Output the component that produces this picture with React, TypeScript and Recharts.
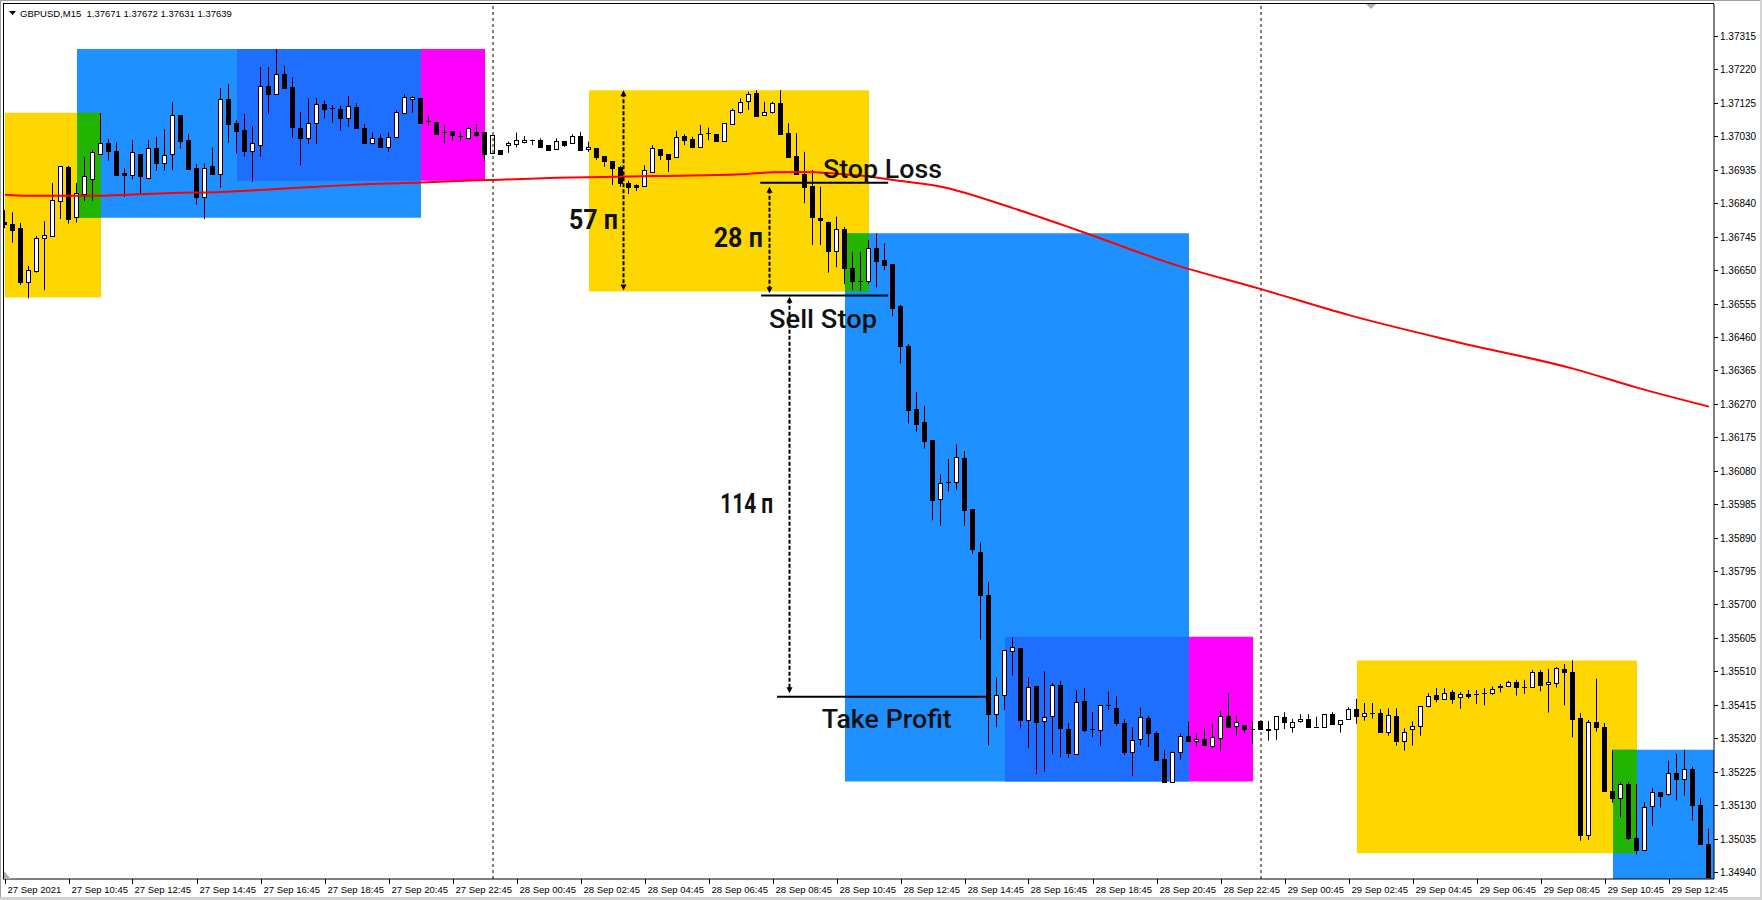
import React from "react";
import {
  ComposedChart,
  Bar,
  Line,
  XAxis,
  YAxis,
  ReferenceArea,
  ReferenceLine,
  ReferenceDot,
} from "recharts";

// GBPUSD M15, 27 Sep 2021 08:45 .. 29 Sep 14:00, one entry per bar
const opens = [
  1.36787, 1.36781, 1.36769, 1.36617, 1.36648, 1.3674, 1.36748, 1.36847, 1.36943, 1.368,
  1.36867, 1.3691, 1.36979, 1.3701, 1.36988, 1.36926, 1.36921, 1.3698, 1.36911, 1.36996,
  1.36953, 1.36979, 1.3709, 1.37019, 1.36939, 1.36858, 1.36946, 1.36924, 1.37135, 1.37067,
  1.37048, 1.36987, 1.37004, 1.37172, 1.37151, 1.37207, 1.3717, 1.37055, 1.37026, 1.37067,
  1.37121, 1.37111, 1.37109, 1.37081, 1.37112, 1.37055, 1.37012, 1.37025, 1.36999, 1.37029,
  1.37095, 1.37137, 1.37138, 1.37073, 1.3707, 1.37043, 1.37045, 1.3703, 1.37024, 1.37041,
  1.37041, 1.36982, 1.36991, 1.37005, 1.37007, 1.37013, 1.37021, 1.37021, 1.37004, 1.36993,
  1.37016, 1.3701, 1.37031, 1.36993, 1.36996, 1.36973, 1.3696, 1.36944, 1.36897, 1.36891,
  1.36889, 1.36929, 1.36994, 1.3698, 1.36972, 1.37031, 1.37022, 1.37, 1.37039, 1.37036,
  1.37017, 1.37064, 1.371, 1.37131, 1.37152, 1.37092, 1.37098, 1.37126, 1.37039, 1.36974,
  1.36923, 1.36889, 1.36799, 1.36788, 1.36703, 1.36766, 1.36655, 1.36618, 1.3662, 1.36712,
  1.36679, 1.36666, 1.36549, 1.36433, 1.36254, 1.36217, 1.36166, 1.35999, 1.36047, 1.36047,
  1.36116, 1.35971, 1.3585, 1.35726, 1.35388, 1.35442, 1.35568, 1.35575, 1.35372, 1.35469,
  1.35369, 1.35382, 1.3547, 1.35346, 1.35274, 1.35426, 1.35347, 1.35344, 1.35414, 1.35407,
  1.35363, 1.35282, 1.35318, 1.35377, 1.35335, 1.35261, 1.35197, 1.35282, 1.35327, 1.35312,
  1.35318, 1.35299, 1.3532, 1.35384, 1.35356, 1.35357, 1.35345, 1.35369, 1.35346, 1.35345,
  1.3538, 1.35351, 1.35368, 1.35374, 1.35353, 1.35353, 1.35388, 1.3536, 1.35374, 1.35402,
  1.35382, 1.35391, 1.35391, 1.35337, 1.35382, 1.35313, 1.35345, 1.35356, 1.35411, 1.35442,
  1.35431, 1.35451, 1.35437, 1.35446, 1.35446, 1.35448, 1.35448, 1.35467, 1.35467, 1.35479,
  1.35465, 1.35465, 1.35508, 1.35474, 1.35478, 1.35517, 1.35508, 1.35377, 1.35044, 1.35366,
  1.35351, 1.35171, 1.35149, 1.3519, 1.35036, 1.35003, 1.35126, 1.35167, 1.35161, 1.35221,
  1.35204, 1.35232, 1.35131, 1.35019,
];

const highs = [
  1.36821, 1.36814, 1.36784, 1.36662, 1.36747, 1.36789, 1.36897, 1.36945, 1.36946, 1.36897,
  1.3697, 1.3699, 1.37096, 1.37022, 1.37013, 1.3694, 1.37019, 1.3698, 1.37019, 1.37029,
  1.3705, 1.37127, 1.3709, 1.37036, 1.36951, 1.36953, 1.36998, 1.37167, 1.37178, 1.37076,
  1.37093, 1.37059, 1.37227, 1.37227, 1.37278, 1.3723, 1.37198, 1.37099, 1.37138, 1.37139,
  1.37131, 1.37118, 1.37117, 1.37144, 1.37124, 1.37065, 1.37041, 1.37036, 1.37041, 1.37104,
  1.37149, 1.37144, 1.37138, 1.37088, 1.3707, 1.37061, 1.37045, 1.37043, 1.37059, 1.37065,
  1.37041, 1.37033, 1.36991, 1.37015, 1.37041, 1.37031, 1.37021, 1.37024, 1.37004, 1.37024,
  1.37016, 1.37036, 1.37043, 1.37015, 1.36996, 1.36973, 1.3696, 1.36946, 1.36904, 1.36894,
  1.36948, 1.37005, 1.36994, 1.3698, 1.37046, 1.37036, 1.37029, 1.37062, 1.37055, 1.37036,
  1.37067, 1.37109, 1.37138, 1.37157, 1.37161, 1.37128, 1.37128, 1.37161, 1.37067, 1.37039,
  1.36986, 1.36934, 1.36887, 1.36788, 1.36802, 1.36773, 1.36702, 1.36702, 1.36735, 1.36754,
  1.36726, 1.36667, 1.36551, 1.3644, 1.36304, 1.36264, 1.36166, 1.36069, 1.36113, 1.36155,
  1.36136, 1.35971, 1.35877, 1.35763, 1.35492, 1.3557, 1.35607, 1.35575, 1.35492, 1.35469,
  1.3551, 1.35477, 1.35483, 1.35363, 1.35456, 1.35463, 1.35395, 1.35414, 1.35453, 1.35439,
  1.35374, 1.35351, 1.35407, 1.35384, 1.35339, 1.35287, 1.35282, 1.35334, 1.35367, 1.35334,
  1.35348, 1.35361, 1.35398, 1.35448, 1.35384, 1.35357, 1.35367, 1.35369, 1.35369, 1.35382,
  1.35394, 1.35375, 1.35388, 1.35388, 1.35381, 1.35388, 1.35394, 1.35371, 1.35408, 1.35432,
  1.3542, 1.3542, 1.35403, 1.35405, 1.35405, 1.35348, 1.35368, 1.35411, 1.35448, 1.35462,
  1.35462, 1.35457, 1.35451, 1.35457, 1.35457, 1.35462, 1.35467, 1.35474, 1.35483, 1.35486,
  1.35486, 1.35514, 1.35514, 1.35517, 1.35522, 1.35531, 1.35541, 1.35391, 1.35372, 1.35489,
  1.35363, 1.35287, 1.35195, 1.35195, 1.3519, 1.35138, 1.35178, 1.35167, 1.35256, 1.35276,
  1.35287, 1.35239, 1.3515, 1.35063,
];

const lows = [
  1.36769, 1.36728, 1.36608, 1.3657, 1.36643, 1.36593, 1.36748, 1.36795, 1.36782, 1.36785,
  1.36846, 1.36847, 1.36979, 1.36961, 1.36917, 1.36858, 1.36908, 1.36868, 1.36908, 1.36932,
  1.36932, 1.36934, 1.36995, 1.36935, 1.36836, 1.36795, 1.36924, 1.36884, 1.37012, 1.36982,
  1.36972, 1.36901, 1.36972, 1.37094, 1.37149, 1.37164, 1.37026, 1.36948, 1.37008, 1.37008,
  1.37081, 1.37069, 1.37046, 1.37057, 1.37054, 1.37009, 1.37007, 1.36999, 1.36986, 1.37029,
  1.37095, 1.37097, 1.37067, 1.3706, 1.37034, 1.3701, 1.37017, 1.37017, 1.37024, 1.37029,
  1.36961, 1.36982, 1.3698, 1.36983, 1.36998, 1.3701, 1.37005, 1.37, 1.36989, 1.36993,
  1.37, 1.3701, 1.36989, 1.36986, 1.36963, 1.36944, 1.36892, 1.36887, 1.36866, 1.36875,
  1.36889, 1.36929, 1.36963, 1.36929, 1.36972, 1.37005, 1.36996, 1.37, 1.37019, 1.37017,
  1.37017, 1.37064, 1.37095, 1.37105, 1.37086, 1.37092, 1.37095, 1.37036, 1.36972, 1.36923,
  1.3684, 1.36721, 1.36721, 1.36643, 1.36658, 1.3661, 1.36593, 1.36591, 1.3661, 1.36601,
  1.3665, 1.36519, 1.36385, 1.36214, 1.36191, 1.36143, 1.35939, 1.35924, 1.36021, 1.36026,
  1.35924, 1.35844, 1.356, 1.353, 1.35351, 1.354, 1.35498, 1.35348, 1.35292, 1.35218,
  1.35224, 1.35274, 1.35266, 1.35264, 1.35274, 1.35337, 1.35323, 1.35298, 1.354, 1.35355,
  1.35272, 1.35212, 1.353, 1.35295, 1.35257, 1.35194, 1.35197, 1.35259, 1.35311, 1.35296,
  1.35298, 1.35293, 1.35282, 1.35353, 1.35327, 1.35334, 1.35304, 1.35344, 1.35313, 1.35315,
  1.35346, 1.35336, 1.35364, 1.35353, 1.35353, 1.35353, 1.3536, 1.35336, 1.35374, 1.35361,
  1.3537, 1.35376, 1.35337, 1.35327, 1.35299, 1.35285, 1.35299, 1.35327, 1.35408, 1.35422,
  1.35431, 1.35418, 1.35404, 1.35432, 1.35417, 1.35413, 1.35443, 1.3545, 1.35465, 1.35441,
  1.35446, 1.35465, 1.35453, 1.35393, 1.35464, 1.35413, 1.35322, 1.35029, 1.35031, 1.35339,
  1.35169, 1.35137, 1.35095, 1.35031, 1.34989, 1.35003, 1.35071, 1.35123, 1.35157, 1.35143,
  1.35157, 1.35086, 1.35019, 1.34925,
];

const closes = [
  1.3678, 1.36764, 1.36617, 1.3665, 1.3674, 1.36749, 1.36848, 1.36945, 1.36795, 1.3687,
  1.36917, 1.36985, 1.3701, 1.36989, 1.3692, 1.36921, 1.36985, 1.36918, 1.36996, 1.36953,
  1.36978, 1.3709, 1.37017, 1.36937, 1.36858, 1.36939, 1.36924, 1.37135, 1.37066, 1.37046,
  1.36988, 1.3701, 1.37172, 1.37151, 1.37206, 1.37168, 1.37057, 1.37026, 1.37067, 1.37121,
  1.37108, 1.37111, 1.37083, 1.37115, 1.37054, 1.37012, 1.37024, 1.36999, 1.37027, 1.37098,
  1.37141, 1.37141, 1.37069, 1.37073, 1.37037, 1.37043, 1.37033, 1.3703, 1.37053, 1.37035,
  1.3698, 1.37033, 1.3698, 1.37012, 1.37021, 1.37019, 1.37021, 1.37, 1.36991, 1.37017,
  1.37005, 1.37031, 1.36991, 1.36999, 1.3697, 1.36961, 1.36941, 1.36897, 1.36887, 1.36886,
  1.36934, 1.36996, 1.36977, 1.36965, 1.37027, 1.37019, 1.37, 1.37036, 1.37039, 1.37017,
  1.37067, 1.37104, 1.37128, 1.3715, 1.37088, 1.37098, 1.37124, 1.37036, 1.36972, 1.36923,
  1.36887, 1.36802, 1.36792, 1.36703, 1.36766, 1.36655, 1.3662, 1.36618, 1.36712, 1.36677,
  1.36664, 1.36543, 1.36433, 1.36253, 1.36213, 1.36164, 1.35998, 1.36046, 1.36047, 1.36118,
  1.35969, 1.35857, 1.35726, 1.3539, 1.35442, 1.3557, 1.35579, 1.35372, 1.35466, 1.35367,
  1.35379, 1.3547, 1.35348, 1.35277, 1.35424, 1.35344, 1.35347, 1.35414, 1.35414, 1.35363,
  1.35282, 1.35314, 1.35379, 1.35335, 1.35259, 1.35197, 1.35282, 1.35327, 1.35311, 1.35317,
  1.35301, 1.35323, 1.35382, 1.35353, 1.35366, 1.35345, 1.35345, 1.35345, 1.35343, 1.35382,
  1.35367, 1.35367, 1.35374, 1.35353, 1.35353, 1.35388, 1.3536, 1.35371, 1.35402, 1.35382,
  1.35391, 1.35391, 1.35337, 1.35385, 1.35313, 1.35337, 1.35354, 1.35411, 1.3544, 1.35431,
  1.35448, 1.35432, 1.35445, 1.35441, 1.35446, 1.35448, 1.35459, 1.35465, 1.35479, 1.35465,
  1.35465, 1.35508, 1.35472, 1.35479, 1.35519, 1.35508, 1.35374, 1.35044, 1.35366, 1.35351,
  1.35169, 1.35149, 1.3519, 1.35036, 1.35003, 1.35124, 1.35167, 1.35157, 1.35221, 1.35204,
  1.35232, 1.35129, 1.35019, 1.34925,
];

// moving average, read at a few bars; the line joins them
const maBars = [0, 3, 12, 16, 21, 27, 33, 39, 45, 52, 59, 62, 69, 81, 92, 96, 100, 104, 108, 112, 117, 126, 134, 146, 157, 168, 182, 196, 204, 213];
const maValues = [
  1.36864, 1.36861, 1.36861, 1.36865, 1.36869, 1.36872, 1.36879, 1.36887, 1.36894, 1.36899,
  1.36905, 1.36907, 1.36912, 1.36917, 1.36922, 1.36928, 1.36929, 1.36924, 1.36916, 1.36903,
  1.36887, 1.36826, 1.36764, 1.36667, 1.36596, 1.36522, 1.36443, 1.3637, 1.36316, 1.36262,
];

const timeTickBars = [0, 8, 16, 24, 32, 40, 48, 56, 64, 72, 80, 88, 96, 104, 112, 120, 128, 136, 144, 152, 160, 168, 176, 184, 192, 200, 208];
const timeLabels = [
  "27 Sep 2021", "27 Sep 10:45", "27 Sep 12:45", "27 Sep 14:45", "27 Sep 16:45", "27 Sep 18:45",
  "27 Sep 20:45", "27 Sep 22:45", "28 Sep 00:45", "28 Sep 02:45", "28 Sep 04:45", "28 Sep 06:45",
  "28 Sep 08:45", "28 Sep 10:45", "28 Sep 12:45", "28 Sep 14:45", "28 Sep 16:45", "28 Sep 18:45",
  "28 Sep 20:45", "28 Sep 22:45", "29 Sep 00:45", "29 Sep 02:45", "29 Sep 04:45", "29 Sep 06:45",
  "29 Sep 08:45", "29 Sep 10:45", "29 Sep 12:45",
];

const priceTicks = [
  1.3494, 1.35035, 1.3513, 1.35225, 1.3532, 1.35415, 1.3551, 1.35605, 1.357, 1.35795,
  1.3589, 1.35985, 1.3608, 1.36175, 1.3627, 1.36365, 1.3646, 1.36555, 1.3665, 1.36745,
  1.3684, 1.36935, 1.3703, 1.37125, 1.3722, 1.37315,
];

const daySeparators = [61, 157];

// session boxes: [fromBar, toBar, lowPrice, highPrice, kind]
const boxes: [number, number, number, number, string][] = [
  [0, 12, 1.36572, 1.37097, "yellow"],
  [9, 52, 1.36799, 1.37278, "blue"],
  [9, 12, 1.36799, 1.37097, "green"],
  [29, 52, 1.36904, 1.37278, "deep"],
  [52, 60, 1.36904, 1.37278, "magenta"],
  [73, 108, 1.36589, 1.37161, "yellow"],
  [105, 148, 1.35197, 1.36755, "blue"],
  [105, 108, 1.36589, 1.36755, "green"],
  [125, 148, 1.35197, 1.35608, "deep"],
  [148, 156, 1.35197, 1.35608, "magenta"],
  [169, 204, 1.34993, 1.35541, "yellow"],
  [201, 213.625, 1.3492, 1.35287, "blue"],
  [201, 204, 1.34993, 1.35287, "green"],
];

// trade levels: [fromBar, toBar, price]
const levels: [number, number, number][] = [
  [94.4, 110.4, 1.36898], // stop loss
  [94.5, 110.4, 1.36578], // sell stop
  [96.5, 122.9, 1.35438], // take profit
];

// measuring arrows: [bar, topPrice, bottomPrice]
const arrows: [number, number, number][] = [
  [77.2, 1.37161, 1.36592],
  [95.5, 1.36887, 1.36584],
  [98, 1.36574, 1.35448],
];

const notes = [
  { text: "57 п", bar: 70.5, price: 1.36767, w: 49, big: true },
  { text: "28 п", bar: 88.6, price: 1.36716, w: 49, big: true },
  { text: "114 п", bar: 89.4, price: 1.3596, w: 53, big: true },
  { text: "Stop Loss", bar: 102.25, price: 1.36913, w: 119, big: false },
  { text: "Sell Stop", bar: 95.5, price: 1.36486, w: 108, big: false },
  { text: "Take Profit", bar: 102.1, price: 1.3535, w: 130, big: false },
];

const boxColors: Record<string, string> = {
  yellow: "#FFD700",
  blue: "#1E90FF",
  green: "#22B400",
  deep: "#1E6EFF",
  magenta: "#FF00FF",
};

const UI_FONT = '"Liberation Sans", Arial, sans-serif';
const NOTE_FONT = 'Roboto, "DejaVu Sans", sans-serif';

const data = opens.map((o, i) => ({
  i,
  o,
  h: highs[i],
  l: lows[i],
  c: closes[i],
  ma: null as number | null,
}));
maBars.forEach((b, k) => {
  data[b].ma = maValues[k];
});

const Candle = (props: any) => {
  const { x, y, width, height, payload } = props;
  if (!payload) return null;
  const { o, h, l, c } = payload;
  const top = Math.min(y, y + height);
  const span = Math.abs(height);
  const k = h > l ? span / (h - l) : 0;
  const py = (v: number) => top + (h - v) * k;
  const cx = Math.floor(x + width / 2) + 0.5;
  const yTop = Math.round(py(Math.max(o, c)));
  const yBot = Math.round(py(Math.min(o, c)));
  const bull = c > o;
  return (
    <g>
      <line x1={cx} x2={cx} y1={top} y2={top + span} stroke="#000" strokeWidth={1} />
      {yBot - yTop < 1 ? (
        <line x1={cx - 2.5} x2={cx + 2.5} y1={yTop + 0.5} y2={yTop + 0.5} stroke="#000" strokeWidth={1} />
      ) : (
        <rect
          x={cx - 2}
          y={yTop + 0.5}
          width={4}
          height={yBot - yTop}
          fill={bull ? "#fff" : "#000"}
          stroke="#000"
          strokeWidth={1}
        />
      )}
    </g>
  );
};

const TimeTick = (props: any) => {
  const { x, y, payload } = props;
  const idx = timeTickBars.indexOf(payload.value);
  const px = Math.floor(x) + 0.5;
  return (
    <g>
      <line x1={px} x2={px} y1={y} y2={y + 5} stroke="#000" strokeWidth={1} />
      <text x={px + 2} y={y + 14} fontSize={9.5} fontFamily={UI_FONT} fill="#000" textAnchor="start">
        {idx >= 0 ? timeLabels[idx] : ""}
      </text>
    </g>
  );
};

const PriceTick = (props: any) => {
  const { x, y, payload } = props;
  const py = Math.round(y) + 0.5;
  return (
    <g>
      <line x1={x} x2={x + 4} y1={py} y2={py} stroke="#000" strokeWidth={1} />
      <text x={x + 6} y={y + 4} fontSize={10} fontFamily={UI_FONT} fill="#000" textAnchor="start">
        {Number(payload.value).toFixed(5)}
      </text>
    </g>
  );
};

const DashArrow = (props: any) => {
  const { x1, y1, y2 } = props;
  const x = Math.round(x1) + 0.5;
  const top = Math.min(y1, y2);
  const bot = Math.max(y1, y2);
  return (
    <g>
      <line x1={x} x2={x} y1={top + 3} y2={bot - 3} stroke="#000" strokeWidth={2} strokeDasharray="4 2" />
      <path d={`M${x - 3},${top + 6} L${x},${top} L${x + 3},${top + 6} Z`} fill="#000" />
      <path d={`M${x - 3},${bot - 6} L${x},${bot} L${x + 3},${bot - 6} Z`} fill="#000" />
    </g>
  );
};

const makeNote = (n: (typeof notes)[number]) => (p: any) => (
  <text
    x={p.cx}
    y={p.cy}
    fontSize={n.big ? 27 : 26}
    fontWeight={n.big ? 700 : 500}
    fontFamily={NOTE_FONT}
    fill="#111"
    textLength={n.w}
    lengthAdjust="spacingAndGlyphs"
  >
    {n.text}
  </text>
);

export default function App() {
  return (
    <div
      style={{
        position: "absolute",
        left: 0,
        top: 0,
        width: 1762,
        height: 900,
        background: "#fff",
        overflow: "hidden",
      }}
    >
      <ComposedChart width={1762} height={900} data={data} margin={{ top: 4, right: 0, bottom: 0, left: 3 }}>
        <XAxis
          dataKey="i"
          type="number"
          domain={[-0.25, 213.625]}
          allowDataOverflow
          ticks={timeTickBars}
          interval={0}
          tick={<TimeTick />}
          tickLine={false}
          tickSize={0}
          tickMargin={0}
          height={21}
          axisLine={{ stroke: "#000" }}
        />
        <YAxis
          orientation="right"
          type="number"
          domain={[1.3492, 1.37406]}
          allowDataOverflow
          ticks={priceTicks}
          interval={0}
          tick={<PriceTick />}
          tickLine={false}
          tickSize={0}
          tickMargin={0}
          width={48}
          axisLine={{ stroke: "#000" }}
        />

        {boxes.map(([x1, x2, y1, y2, kind], k) => (
          <ReferenceArea
            key={`box-${k}`}
            x1={x1}
            x2={x2}
            y1={y1}
            y2={y2}
            fill={boxColors[kind]}
            fillOpacity={1}
            stroke="none"
            ifOverflow="hidden"
          />
        ))}

        {daySeparators.map((b) => (
          <ReferenceLine key={`day-${b}`} x={b} stroke="#000" strokeWidth={1} strokeDasharray="3 3" />
        ))}

        <Line
          dataKey="ma"
          type="monotone"
          stroke="#FF0000"
          strokeWidth={2}
          dot={false}
          activeDot={false}
          connectNulls
          isAnimationActive={false}
        />

        <Bar
          dataKey={(d: any) => [d.l, d.h]}
          barSize={5}
          shape={<Candle />}
          isAnimationActive={false}
        />

        {levels.map(([x1, x2, p], k) => (
          <ReferenceLine
            key={`lvl-${k}`}
            segment={[
              { x: x1, y: p },
              { x: x2, y: p },
            ]}
            stroke="#000"
            strokeWidth={2}
          />
        ))}

        {arrows.map(([b, p1, p2], k) => (
          <ReferenceLine
            key={`arr-${k}`}
            segment={[
              { x: b, y: p1 },
              { x: b, y: p2 },
            ]}
            shape={(p: any) => <DashArrow {...p} />}
          />
        ))}

        {notes.map((n, k) => (
          <ReferenceDot key={`note-${k}`} x={n.bar} y={n.price} r={1} ifOverflow="visible" shape={makeNote(n)} />
        ))}
      </ComposedChart>

      {/* window frame */}
      <div style={{ position: "absolute", left: 0, top: 0, width: 1762, height: 1, background: "#a0a0a0" }} />
      <div style={{ position: "absolute", left: 0, top: 0, width: 1, height: 900, background: "#a0a0a0" }} />
      <div style={{ position: "absolute", left: 1760, top: 0, width: 2, height: 900, background: "#d4d4d4" }} />
      <div style={{ position: "absolute", left: 0, top: 897, width: 1762, height: 3, background: "#d4d4d4" }} />
      <div style={{ position: "absolute", left: 3, top: 3, width: 1, height: 876, background: "#000" }} />
      <div style={{ position: "absolute", left: 3, top: 3, width: 1711, height: 1, background: "#000" }} />

      {/* header */}
      <svg style={{ position: "absolute", left: 0, top: 0 }} width={1762} height={30}>
        <path d="M9,11 L16,11 L12.5,15 Z" fill="#000" />
        <text x={20} y={17} fontSize={9.5} fontFamily={UI_FONT} fill="#000">
          GBPUSD,M15{"\u00a0\u00a0"}1.37671 1.37672 1.37631 1.37639
        </text>
        <path d="M1366,4 L1376,4 L1371,9 Z" fill="#b0b0b0" />
      </svg>
      <svg style={{ position: "absolute", left: 0, top: 868 }} width={20} height={12}>
        <path d="M4,3 L4,11 L11,11 Z" fill="#b0b0b0" />
      </svg>
    </div>
  );
}
